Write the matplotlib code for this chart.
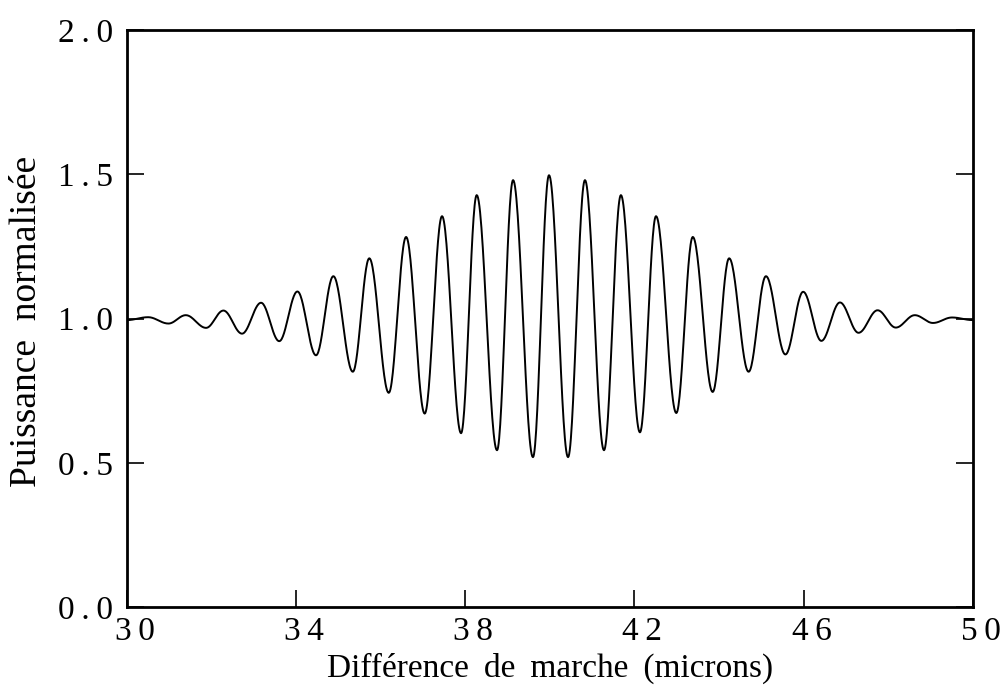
import numpy as np
import matplotlib
matplotlib.use("Agg")
import matplotlib.pyplot as plt
from matplotlib.transforms import ScaledTranslation

# ----- Extrema of the interferogram -----
ext_x = [30.00, 30.50, 30.98, 31.39, 31.87, 32.28, 32.72, 33.17, 33.60, 34.03,
         34.47, 34.88, 35.34, 35.73, 36.19, 36.60, 37.04, 37.45, 37.90, 38.27,
         38.75, 39.13, 39.60, 39.98, 40.43, 40.83, 41.28, 41.68, 42.13, 42.51,
         42.99, 43.38, 43.85, 44.24, 44.70, 45.11, 45.57, 45.99, 46.42, 46.86,
         47.30, 47.75, 48.18, 48.63, 49.06, 49.51, 50.00]
ext_y = [0.995, 1.005, 0.983, 1.012, 0.968, 1.028, 0.948, 1.055, 0.922, 1.094,
         0.873, 1.147, 0.816, 1.209, 0.743, 1.283, 0.671, 1.355, 0.603, 1.428,
         0.544, 1.480, 0.520, 1.497, 0.520, 1.480, 0.544, 1.428, 0.606, 1.355,
         0.673, 1.283, 0.746, 1.209, 0.816, 1.147, 0.876, 1.093, 0.923, 1.056,
         0.951, 1.029, 0.969, 1.012, 0.985, 1.004, 0.995]

x_ticks = [30, 34, 38, 42, 46, 50]
y_ticks = [0.0, 0.5, 1.0, 1.5, 2.0]

SP = "\u2009"  # letter spacing in the tick labels
GAP = " \u2009"  # wide word spacing in the axis titles

# smooth stroke between successive extrema (half cosine per segment)
xs, ys = [], []
for i in range(len(ext_x) - 1):
    t = np.linspace(0, 1, 30, endpoint=False)
    w = (1 - np.cos(np.pi * t)) / 2
    xs.append(ext_x[i] + (ext_x[i + 1] - ext_x[i]) * t)
    ys.append(ext_y[i] + (ext_y[i + 1] - ext_y[i]) * w)
xs.append([ext_x[-1]])
ys.append([ext_y[-1]])
xs = np.concatenate(xs)
ys = np.concatenate(ys)

plt.rcParams['font.family'] = ['Liberation Serif', 'DejaVu Serif']

fig = plt.figure(figsize=(10.08, 6.98), dpi=100)
ax = fig.add_axes([0.126, 0.130, 0.839, 0.827])

ax.plot(xs, ys, color='black', linewidth=1.4)

ax.set_xlim(30, 50)
ax.set_ylim(0, 2)
ax.set_xticks(x_ticks)
ax.set_xticklabels([SP.join(str(v)) for v in x_ticks])
ax.set_yticks(y_ticks)
ax.set_yticklabels([SP.join(f"{v:.1f}") for v in y_ticks])

ax.tick_params(axis='both', direction='in', length=12, width=1.2,
               labelsize=24)
ax.tick_params(axis='y', right=True, left=True, pad=10)
ax.tick_params(axis='x', top=False, pad=7)

# the x labels sit a little to the right of their ticks in the original
shift = ScaledTranslation(8 / 100, 0, fig.dpi_scale_trans)
for lab in ax.get_xticklabels():
    lab.set_transform(lab.get_transform() + shift)

for s in ax.spines.values():
    s.set_linewidth(2.0)

fig.text(0.546, 0.042, GAP.join(["Différence", "de", "marche", "(microns)"]),
         fontsize=24, ha='center', va='center')
fig.text(0.027, 0.539, "Puissance  normalisée",
         fontsize=27, ha='center', va='center', rotation=90)

fig.savefig("out.png", dpi=100)
